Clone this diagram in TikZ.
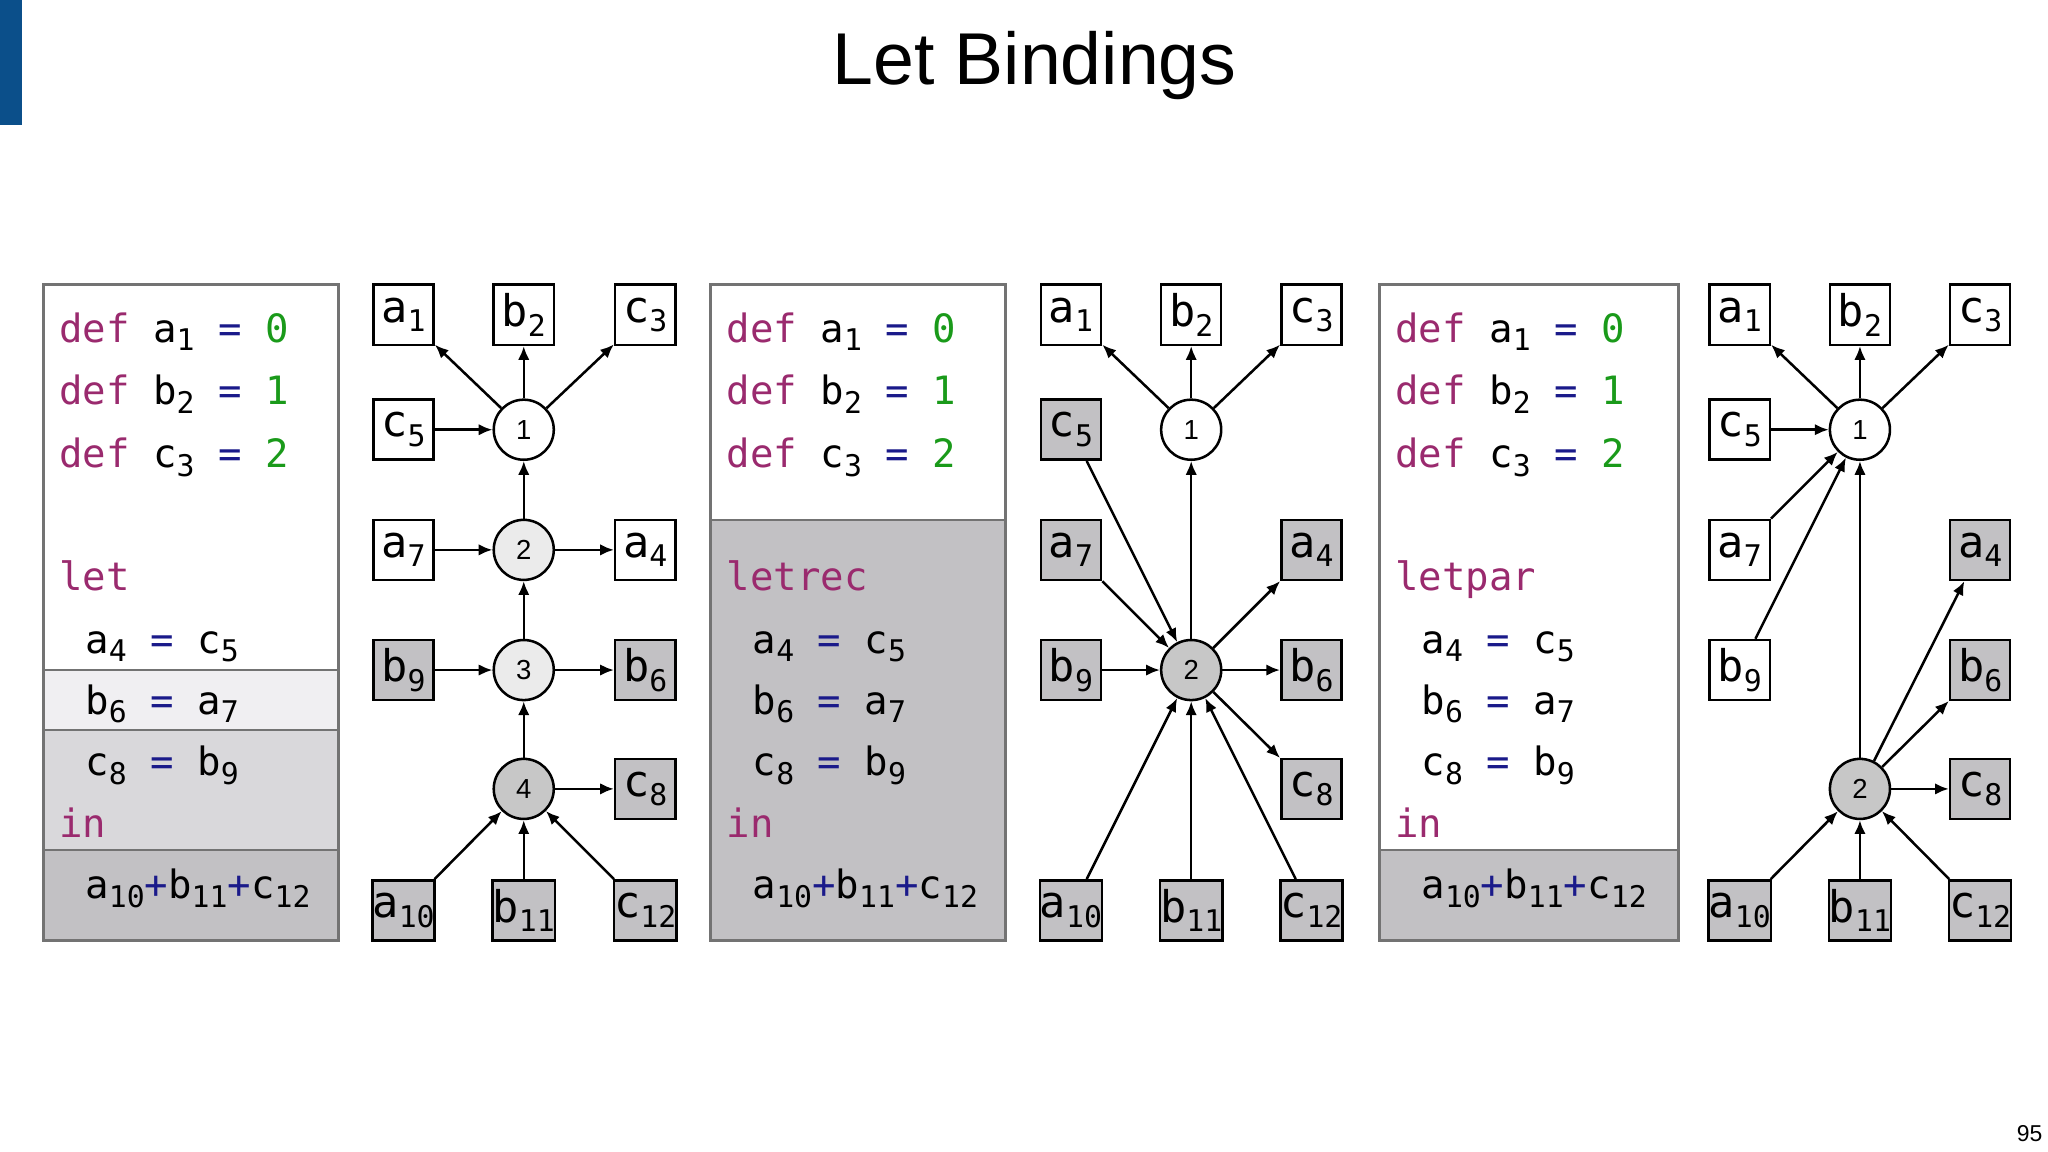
\documentclass[tikz,border=0pt]{standalone}
\usepackage{fontspec}
\setmainfont{Liberation Sans}
\newfontfamily\codefont{DejaVu Sans Mono}
\usetikzlibrary{arrows.meta}
\definecolor{kw}{HTML}{9A2A6E}
\definecolor{num}{HTML}{1A9A1A}
\definecolor{op}{HTML}{1A1A8A}
\definecolor{bnd}{HTML}{0B4F8A}
\definecolor{gbox}{HTML}{C2C1C4}
\definecolor{lband}{HTML}{F0EFF2}
\definecolor{mband}{HTML}{D9D8DB}
\newcommand{\subx}[1]{\raisebox{-0.4ex}{\fontsize{13}{13}\selectfont #1}}
\newcommand{\K}[1]{\textcolor{kw}{#1}}
\newcommand{\N}[1]{\textcolor{num}{#1}}
\newcommand{\Q}{\textcolor{op}{=}}
\newcommand{\PL}{\textcolor{op}{+}}
\begin{document}
\begin{tikzpicture}[x=0.02cm,y=-0.02cm,
  code/.style={anchor=base west,inner sep=0,font=\codefont\fontsize{17}{17}\selectfont},
  bx/.style={draw,line width=1.1pt,minimum size=0.92cm,inner sep=0,font=\codefont\fontsize{19}{19}\selectfont,fill=white},
  gb/.style={bx,fill=gbox},
  cw/.style={draw,circle,line width=1.1pt,minimum size=0.92cm,inner sep=0,font=\fontsize{12}{12}\selectfont,fill=white},
  cl/.style={cw,fill=black!8},
  cg/.style={cw,fill=black!22},
  ar/.style={-{Latex[length=6pt,width=5pt]},line width=1.1pt}]
\useasboundingbox (0,0) rectangle (1568,882);
\fill[bnd] (0,0) rectangle (17,96);
\node[font=\fontsize{32}{32}\selectfont] (title) at (792,50) {Let Bindings};
\node[font=\fontsize{10}{10}\selectfont] (pg) at (1554,868) {95};
% panel 1
\fill[lband] (33,513) rectangle (259,559);
\fill[mband] (33,559) rectangle (259,651);
\fill[gbox] (33,651) rectangle (259,720);
\draw[black!55,line width=1pt] (33,513) -- (259,513) (33,559) -- (259,559) (33,651) -- (259,651);
\draw[black!55,line width=1.3pt] (33,218) rectangle (259,720);
% panel 2
\fill[gbox] (544,398) rectangle (770,720);
\draw[black!55,line width=1pt] (544,398) -- (770,398);
\draw[black!55,line width=1.3pt] (544,218) rectangle (770,720);
% panel 3
\fill[gbox] (1056,651) rectangle (1285,720);
\draw[black!55,line width=1pt] (1056,651) -- (1285,651);
\draw[black!55,line width=1.3pt] (1056,218) rectangle (1285,720);
\foreach \o/\kwd in {0/let,511/letrec,1023/letpar}{
 \node[code] at (45+\o,262) {\K{def} a\subx{1} \Q{} \N{0}};
 \node[code] at (45+\o,310) {\K{def} b\subx{2} \Q{} \N{1}};
 \node[code] at (45+\o,358) {\K{def} c\subx{3} \Q{} \N{2}};
 \node[code] at (45+\o,452) {\K{\kwd}};
 \node[code] at (65+\o,500) {a\subx{4} \Q{} c\subx{5}};
 \node[code] at (65+\o,547) {b\subx{6} \Q{} a\subx{7}};
 \node[code] at (65+\o,594) {c\subx{8} \Q{} b\subx{9}};
 \node[code] at (45+\o,641) {\K{in}};
 \node[code] at (65+\o,688) {a\subx{10}\PL{}b\subx{11}\PL{}c\subx{12}};
}
% graph 1
\node[bx] (a1) at (309,241) {a\subx{1}};
\node[bx] (b2) at (401,241) {b\subx{2}};
\node[bx] (c3) at (494,241) {c\subx{3}};
\node[cw] (n1) at (401,329) {1};
\node[bx] (c5) at (309,329) {c\subx{5}};
\node[cl] (n2) at (401,421) {2};
\node[bx] (a7) at (309,421) {a\subx{7}};
\node[bx] (a4) at (494,421) {a\subx{4}};
\node[cl] (n3) at (401,513) {3};
\node[gb] (b9) at (309,513) {b\subx{9}};
\node[gb] (b6) at (494,513) {b\subx{6}};
\node[cg] (n4) at (401,604) {4};
\node[gb] (c8) at (494,604) {c\subx{8}};
\node[gb] (a10) at (309,697) {a\subx{10}};
\node[gb] (b11) at (401,697) {b\subx{11}};
\node[gb] (c12) at (494,697) {c\subx{12}};
\draw[ar] (n1)--(a1); \draw[ar] (n1)--(b2); \draw[ar] (n1)--(c3);
\draw[ar] (c5)--(n1); \draw[ar] (n2)--(n1); \draw[ar] (a7)--(n2); \draw[ar] (n2)--(a4);
\draw[ar] (n3)--(n2); \draw[ar] (b9)--(n3); \draw[ar] (n3)--(b6);
\draw[ar] (n4)--(n3); \draw[ar] (n4)--(c8);
\draw[ar] (a10)--(n4); \draw[ar] (b11)--(n4); \draw[ar] (c12)--(n4);
% graph 2
\node[bx] (pa1) at (820,241) {a\subx{1}};
\node[bx] (pb2) at (912,241) {b\subx{2}};
\node[bx] (pc3) at (1004,241) {c\subx{3}};
\node[cw] (pn1) at (912,329) {1};
\node[gb] (pc5) at (820,329) {c\subx{5}};
\node[gb] (pa7) at (820,421) {a\subx{7}};
\node[gb] (pa4) at (1004,421) {a\subx{4}};
\node[gb] (pb9) at (820,513) {b\subx{9}};
\node[cg] (pn2) at (912,513) {2};
\node[gb] (pb6) at (1004,513) {b\subx{6}};
\node[gb] (pc8) at (1004,604) {c\subx{8}};
\node[gb] (pa10) at (820,697) {a\subx{10}};
\node[gb] (pb11) at (912,697) {b\subx{11}};
\node[gb] (pc12) at (1004,697) {c\subx{12}};
\draw[ar] (pn1)--(pa1); \draw[ar] (pn1)--(pb2); \draw[ar] (pn1)--(pc3);
\draw[ar] (pn2)--(pn1); \draw[ar] (pc5)--(pn2); \draw[ar] (pa7)--(pn2); \draw[ar] (pb9)--(pn2);
\draw[ar] (pn2)--(pa4); \draw[ar] (pn2)--(pb6); \draw[ar] (pn2)--(pc8);
\draw[ar] (pa10)--(pn2); \draw[ar] (pb11)--(pn2); \draw[ar] (pc12)--(pn2);
% graph 3
\node[bx] (qa1) at (1332,241) {a\subx{1}};
\node[bx] (qb2) at (1424,241) {b\subx{2}};
\node[bx] (qc3) at (1516,241) {c\subx{3}};
\node[cw] (qn1) at (1424,329) {1};
\node[bx] (qc5) at (1332,329) {c\subx{5}};
\node[bx] (qa7) at (1332,421) {a\subx{7}};
\node[bx] (qb9) at (1332,513) {b\subx{9}};
\node[gb] (qa4) at (1516,421) {a\subx{4}};
\node[gb] (qb6) at (1516,513) {b\subx{6}};
\node[cg] (qn2) at (1424,604) {2};
\node[gb] (qc8) at (1516,604) {c\subx{8}};
\node[gb] (qa10) at (1332,697) {a\subx{10}};
\node[gb] (qb11) at (1424,697) {b\subx{11}};
\node[gb] (qc12) at (1516,697) {c\subx{12}};
\draw[ar] (qn1)--(qa1); \draw[ar] (qn1)--(qb2); \draw[ar] (qn1)--(qc3);
\draw[ar] (qc5)--(qn1); \draw[ar] (qa7)--(qn1); \draw[ar] (qb9)--(qn1); \draw[ar] (qn2)--(qn1);
\draw[ar] (qn2)--(qa4); \draw[ar] (qn2)--(qb6); \draw[ar] (qn2)--(qc8);
\draw[ar] (qa10)--(qn2); \draw[ar] (qb11)--(qn2); \draw[ar] (qc12)--(qn2);
\end{tikzpicture}
\end{document}
